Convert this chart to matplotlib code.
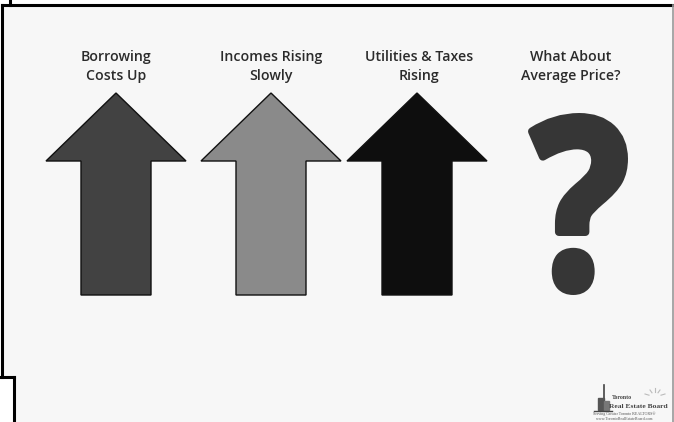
import matplotlib
matplotlib.use('Agg')
import matplotlib.pyplot as plt
from matplotlib.patches import Polygon, Rectangle, PathPatch
from matplotlib.textpath import TextPath
from matplotlib.font_manager import FontProperties
from matplotlib.transforms import Affine2D

# slide content
labels = ['Borrowing\nCosts Up', 'Incomes Rising\nSlowly', 'Utilities & Taxes\nRising', 'What About\nAverage Price?']
label_x = [116, 271, 419, 571]
arrow_x = [116, 271, 417]
arrow_colors = ['#424242', '#8a8a8a', '#0e0e0e']

W, H = 674, 422
fig = plt.figure(figsize=(W / 100, H / 100), dpi=100)
ax = fig.add_axes([0, 0, 1, 1])
ax.set_xlim(0, W)
ax.set_ylim(H, 0)
ax.axis('off')

# slide background + frame lines
ax.add_patch(Rectangle((0, 0), W, H, color='white', zorder=0))
ax.add_patch(Rectangle((1.5, 5), W - 3, 372, color='#f7f7f7', zorder=0.5))
ax.add_patch(Rectangle((14, 377), W - 14, 45, color='#f7f7f7', zorder=0.5))
ax.plot([1.5, W - 1.5], [5, 5], color='black', lw=2.2, zorder=3)
ax.plot([1.5, 1.5], [5, 377], color='black', lw=2.2, zorder=3)
ax.plot([0, 14], [377, 377], color='black', lw=2.2, zorder=3)
ax.plot([14, 14], [377, H], color='black', lw=2.2, zorder=3)
ax.plot([10, 10], [0, 5], color='black', lw=2.2, zorder=3)
ax.plot([W - 1.5, W - 1.5], [5, H], color='#999999', lw=1.2, zorder=3)

# titles
for lab, x in zip(labels, label_x):
    ax.text(x, 66.5, lab, ha='center', va='center', fontsize=10.2,
            family='Open Sans', weight='semibold', color='#2b2b2b',
            linespacing=1.5)

# arrows
head_w, shaft_w = 70, 35
for x, c in zip(arrow_x, arrow_colors):
    pts = [(x, 93), (x + head_w, 161), (x + shaft_w, 161), (x + shaft_w, 295),
           (x - shaft_w, 295), (x - shaft_w, 161), (x - head_w, 161)]
    ax.add_patch(Polygon(pts, closed=True, facecolor=c, edgecolor='#111111',
                         lw=1.0, zorder=2))

# big question mark, fitted into its box (thick rounded outline widens the glyph)
fp = FontProperties(family='Open Sans', weight='bold')
tp = TextPath((0, 0), '?', size=100, prop=fp)
bb = tp.get_extents()
pad = 4
x0, y0, x1, y1 = 528 + pad, 113 + pad, 628 - pad, 295 - pad
tr = (Affine2D().translate(-bb.x0, -bb.y1).scale((x1 - x0) / bb.width, -(y1 - y0) / bb.height)
      .translate(x0, y0))
ax.add_patch(PathPatch(tr.transform_path(tp), facecolor='#363636', edgecolor='#363636',
                       lw=pad * 2 * 0.72, joinstyle='round', zorder=2))

# board logo (bottom right)
ax.plot([604, 604], [385, 410], color='#444444', lw=1.2, zorder=2)
ax.add_patch(Rectangle((598, 398), 6, 12, color='#555555', zorder=2))
ax.add_patch(Rectangle((604, 401), 5, 9, color='#777777', zorder=2))
ax.plot([594, 612], [410.5, 410.5], color='#444444', lw=1, zorder=2)
for dx, dy in [(-10, -3), (-5, -7), (0, -9), (5, -7), (10, -3)]:
    ax.plot([655 + dx * 0.6, 655 + dx], [397 + dy * 0.6, 397 + dy], color='#bbbbbb', lw=0.8, zorder=2)
ax.text(612, 397.5, 'Toronto', fontsize=4.2, family='Liberation Serif', weight='bold',
        color='#444444', va='center')
ax.text(609, 406.5, 'Real Estate Board', fontsize=5.4, family='Liberation Serif',
        weight='bold', color='#444444', va='center')
ax.text(593, 414, 'Serving Greater Toronto REALTORS®', fontsize=2.9, family='Liberation Serif',
        color='#555555', va='center')
ax.text(596, 419, 'www.TorontoRealEstateBoard.com', fontsize=2.9, family='Liberation Serif',
        color='#555555', va='center')

fig.savefig('out.png', dpi=100)
